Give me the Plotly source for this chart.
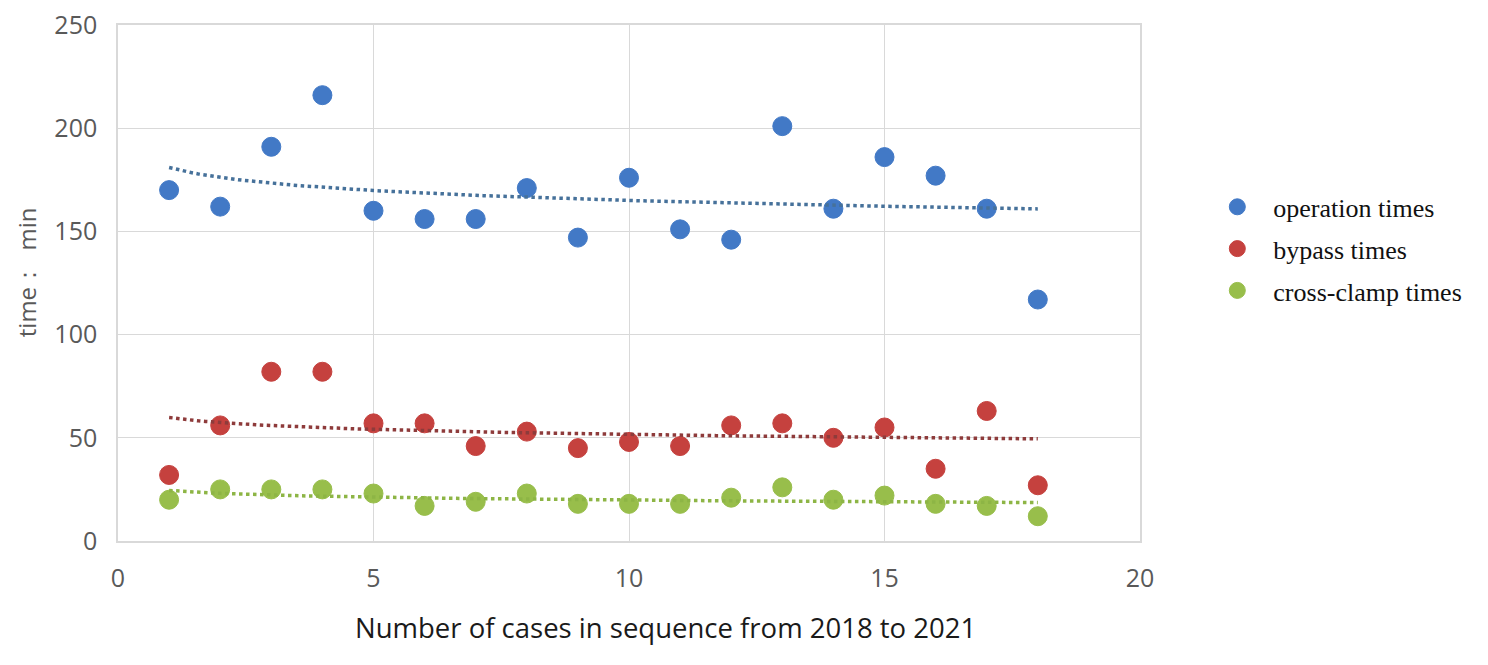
import numpy as np
import plotly.graph_objects as go

cases = list(range(1, 19))
operation_times = [170, 162, 191, 216, 160, 156, 156, 171, 147, 176, 151, 146, 201, 161, 186, 177, 161, 117]
bypass_times = [32, 56, 82, 82, 57, 57, 46, 53, 45, 48, 46, 56, 57, 50, 55, 35, 63, 27]
cross_clamp_times = [20, 25, 25, 25, 23, 17, 19, 23, 18, 18, 18, 21, 26, 20, 22, 18, 17, 12]

x_title = "Number of cases in sequence from 2018 to 2021"
y_title = "time：  min"

series = [
    ("operation times", operation_times, "#4279C6", "#46719A"),
    ("bypass times", bypass_times, "#C5413E", "#8E3B3B"),
    ("cross-clamp times", cross_clamp_times, "#98BE4B", "#8DB545"),
]

fig = go.Figure()
x = np.array(cases, dtype=float)
for i, (name, vals, color, tcolor) in enumerate(series):
    fig.add_trace(go.Scatter(
        x=cases, y=vals, mode="markers", name=name,
        marker=dict(size=19, color=color, line=dict(width=1, color=color)),
        legendgroup=f"g{i}",
    ))
for i, (name, vals, color, tcolor) in enumerate(series):
    # logarithmic trendline (least squares on ln x)
    b, a = np.polyfit(np.log(x), np.array(vals, dtype=float), 1)
    xt = np.linspace(1, 18, 120)
    fig.add_trace(go.Scatter(
        x=xt, y=a + b * np.log(xt), mode="lines", showlegend=False,
        line=dict(color=tcolor, width=3.5, dash="dot"), hoverinfo="skip",
    ))

axis_common = dict(
    showgrid=True, gridcolor="#D9D9D9", gridwidth=1.3,
    zeroline=False, ticks="outside", ticklen=14, tickcolor="rgba(0,0,0,0)",
    showline=True, linecolor="#D9D9D9", linewidth=1.5, mirror=True,
    ticklabeloverflow="allow", automargin=False,
    tickfont=dict(family="Open Sans, Segoe UI, sans-serif", size=25, color="#595959"),
)
fig.update_xaxes(range=[0, 20], tick0=0, dtick=5, **axis_common)
fig.update_yaxes(range=[0, 250], tick0=0, dtick=50, **axis_common)

fig.add_annotation(
    text=x_title, xref="paper", yref="paper", x=0.536, y=-0.168,
    xanchor="center", yanchor="middle", showarrow=False,
    font=dict(family="Open Sans, sans-serif", size=27.5, color="#1a1a1a"),
)
fig.add_annotation(
    text=y_title, xref="paper", yref="paper", x=-0.0895, y=0.52, textangle=-90,
    xanchor="center", yanchor="middle", showarrow=False, borderpad=0,
    font=dict(family="Open Sans, sans-serif", size=24, color="#595959"),
)

fig.update_layout(
    width=1480, height=657,
    margin=dict(l=110, r=348, t=17, b=124),
    plot_bgcolor="white", paper_bgcolor="white",
    legend=dict(
        x=1.060, y=0.693, xanchor="left", yanchor="top",
        font=dict(family="Liberation Serif, Times New Roman, serif", size=26, color="#111111"),
        tracegroupgap=5, itemwidth=62, bgcolor="rgba(0,0,0,0)",
    ),
    showlegend=True,
)
fig.write_html("out.html")
